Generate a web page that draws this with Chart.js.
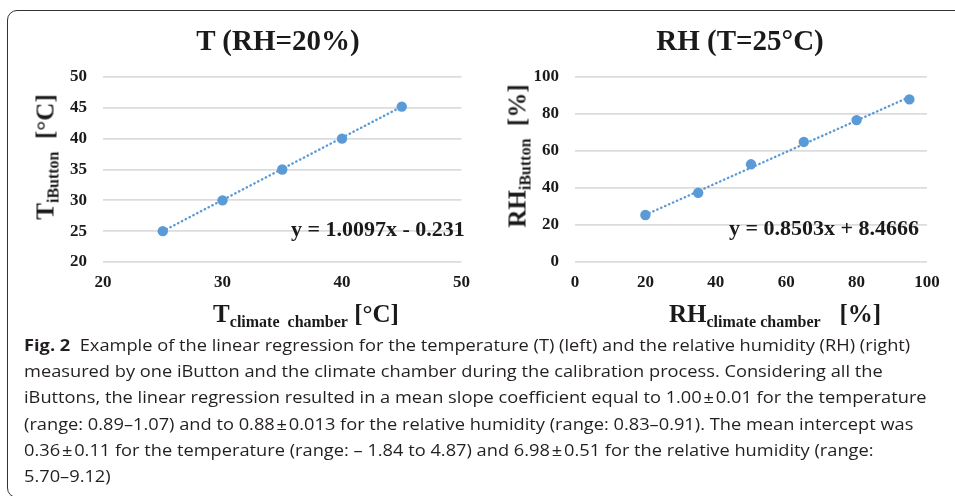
<!DOCTYPE html>
<html>
<head>
<meta charset="utf-8">
<script src="https://cdn.jsdelivr.net/npm/chart.js@4.4.1/dist/chart.umd.min.js"></script>
<style>
  body { margin: 0; width: 955px; height: 496px; overflow: hidden; background: #fff; position: relative; }
  .frame { position: absolute; left: 7px; top: 10px; width: 1000px; height: 486px; border: 1.5px solid #333; border-radius: 10px; }
  .box { position: absolute; top: 0; height: 330px; }
  .lbl { position: absolute; font-family: "Liberation Serif", "Times New Roman", serif; font-weight: bold; color: #1a1a1a; white-space: nowrap; line-height: 1; }
  .title { font-size: 29px; transform: translate(-50%, -50%); }
  .axt { font-size: 25px; transform: translate(-50%, -50%); }
  .axt.rot { transform: translate(-50%, -50%) rotate(-90deg); }
  .sub { font-size: 16px; position: relative; top: 5px; }
  .eq { font-size: 22px; transform: translate(0, -50%); }
  .caption { position: absolute; left: 24px; top: 332px; font-family: "Open Sans", sans-serif; font-size: 16px; line-height: 26.2px; color: #231f20; transform: scaleX(1.14); transform-origin: 0 0; }
  .caption div { white-space: nowrap; }
  .caption b { font-weight: bold; }
</style>
</head>
<body>
<div class="frame"></div>

<div class="box" style="left:0;width:480px"><canvas id="tChart"></canvas></div>
<div class="box" style="left:480px;width:475px"><canvas id="rhChart"></canvas></div>

<div class="lbl title" style="left:278px;top:40px">T (RH=20%)</div>
<div class="lbl title" style="left:740px;top:40px">RH (T=25°C)</div>

<div class="lbl axt rot" style="left:45px;top:157px">T<span class="sub">iButton</span>&nbsp;&nbsp;[°C]</div>
<div class="lbl axt" style="left:306px;top:313px">T<span class="sub">climate&nbsp; chamber</span>&nbsp;[°C]</div>
<div class="lbl axt rot" style="left:517px;top:156px">RH<span class="sub">iButton</span>&nbsp;&nbsp;[%]</div>
<div class="lbl axt" style="left:775px;top:313px">RH<span class="sub">climate chamber</span>&nbsp;&nbsp;&nbsp;[%]</div>

<div class="lbl eq" style="left:291px;top:229px">y = 1.0097x - 0.231</div>
<div class="lbl eq" style="left:729px;top:228px">y = 0.8503x + 8.4666</div>

<div class="caption" id="caption">
  <div><b>Fig. 2</b>&nbsp; Example of the linear regression for the temperature (T) (left) and the relative humidity (RH) (right)</div>
  <div>measured by one iButton and the climate chamber during the calibration process. Considering all the</div>
  <div>iButtons, the linear regression resulted in a mean slope coefficient equal to 1.00&#8202;±&#8202;0.01 for the temperature</div>
  <div>(range: 0.89–1.07) and to 0.88&#8202;±&#8202;0.013 for the relative humidity (range: 0.83–0.91). The mean intercept was</div>
  <div>0.36&#8202;±&#8202;0.11 for the temperature (range: – 1.84 to 4.87) and 6.98&#8202;±&#8202;0.51 for the relative humidity (range:</div>
  <div>5.70–9.12)</div>
</div>

<script>
// temperature run (RH = 20%)
const tempX = [25, 30, 35, 40, 45];
const tempY = [25.0, 30.0, 35.0, 40.0, 45.2];
const tempFitX = [25, 45];
const tempFitY = [25.0, 45.2];

// humidity run (T = 25°C)
const rhX = [20, 35, 50, 65, 80, 95];
const rhY = [25.4, 37.4, 52.8, 64.9, 76.7, 87.9];
const rhFitX = [20, 95];
const rhFitY = [25.5, 89.2];

const blue = '#5b9bd5';
Chart.defaults.font.family = '"Liberation Serif", "Times New Roman", serif';

function pts(xs, ys) {
    return xs.map((x, i) => ({ x: x, y: ys[i] }));
}

function makeChart(id, opts) {
    const tickFont = { size: 17, weight: 'bold' };
    return new Chart(document.getElementById(id), {
        type: 'scatter',
        data: {
            datasets: [
                {
                    data: pts(opts.x, opts.y),
                    pointRadius: 5.2,
                    pointHoverRadius: 5.2,
                    backgroundColor: blue,
                    borderWidth: 0
                },
                {
                    type: 'line',
                    data: pts(opts.fitX, opts.fitY),
                    borderColor: blue,
                    borderWidth: 2.4,
                    borderDash: [0.4, 3.9],
                    borderCapStyle: 'round',
                    pointRadius: 0,
                    fill: false
                }
            ]
        },
        options: {
            responsive: true,
            maintainAspectRatio: false,
            animation: false,
            layout: { padding: { left: 0, right: opts.padRight, top: 77, bottom: 0 } },
            plugins: { legend: { display: false }, tooltip: { enabled: false } },
            scales: {
                x: {
                    type: 'linear',
                    min: opts.xMin, max: opts.xMax,
                    ticks: { stepSize: opts.xStep, padding: 10, font: tickFont, color: '#1a1a1a' },
                    grid: { display: false, drawTicks: false },
                    border: { display: false },
                    afterFit: (s) => { s.height = 68; }
                },
                y: {
                    min: opts.yMin, max: opts.yMax,
                    ticks: { stepSize: opts.yStep, padding: 16, font: tickFont, color: '#1a1a1a' },
                    grid: { color: '#dcdcdc', lineWidth: 1.8, drawTicks: false },
                    border: { display: false },
                    afterFit: (s) => { s.width = opts.yWidth; }
                }
            }
        }
    });
}

makeChart('tChart', {
    x: tempX, y: tempY, fitX: tempFitX, fitY: tempFitY,
    xMin: 20, xMax: 50, xStep: 10, yMin: 20, yMax: 50, yStep: 5,
    yWidth: 103, padRight: 11
});

makeChart('rhChart', {
    x: rhX, y: rhY, fitX: rhFitX, fitY: rhFitY,
    xMin: 0, xMax: 100, xStep: 20, yMin: 0, yMax: 100, yStep: 20,
    yWidth: 95, padRight: 28
});
</script>
</body>
</html>
